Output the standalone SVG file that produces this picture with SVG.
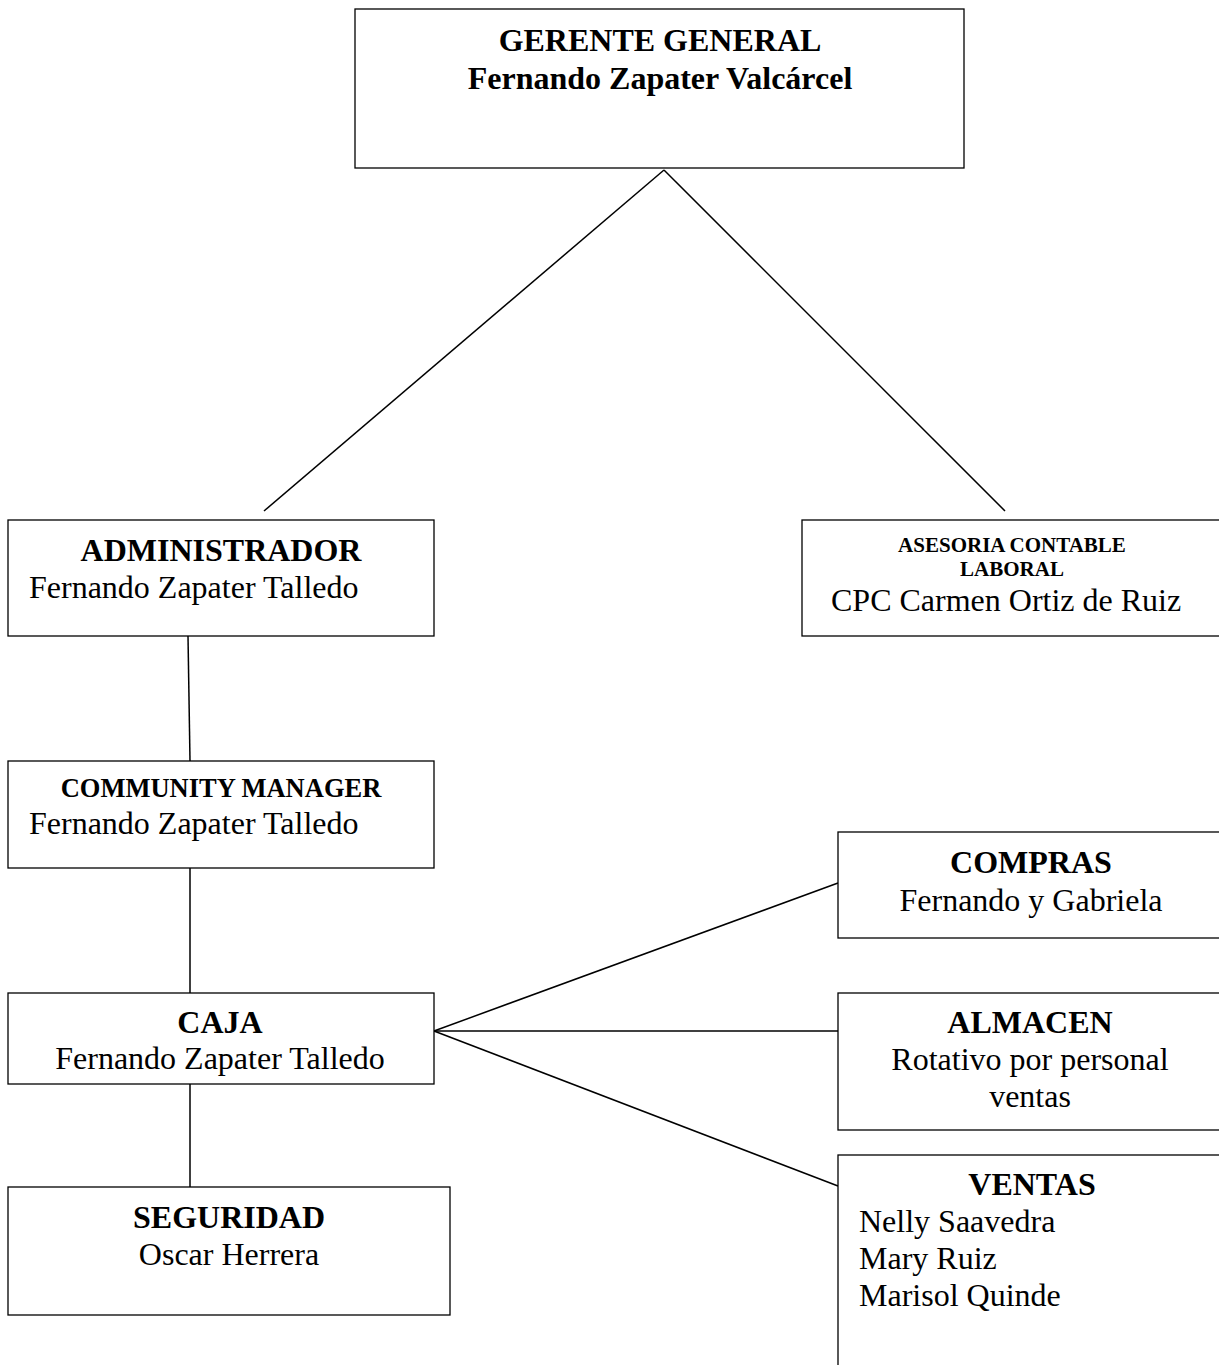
<svg xmlns="http://www.w3.org/2000/svg" width="1219" height="1365" viewBox="0 0 1219 1365">
<style>
.box{fill:#fff;stroke:#000;stroke-width:1.3}
.b{font-family:"Liberation Serif","Times New Roman",serif;font-weight:bold;fill:#000}
.r{font-family:"Liberation Serif","Times New Roman",serif;fill:#000}
.c{text-anchor:middle}
.conn line{stroke:#000;stroke-width:1.5}
</style>
<rect width="1219" height="1365" fill="#fff"/>
<g class="conn" id="connectors">
<line x1="664" y1="170" x2="264" y2="511"/>
<line x1="664" y1="170" x2="1005" y2="511"/>
<line x1="188" y1="636" x2="190" y2="761"/>
<line x1="190" y1="868" x2="190" y2="993"/>
<line x1="190" y1="1084" x2="190" y2="1187"/>
<line x1="434" y1="1031" x2="838" y2="883"/>
<line x1="434" y1="1031" x2="838" y2="1031"/>
<line x1="434" y1="1031" x2="838" y2="1186"/>
</g>
<g id="gerente">
<rect class="box" x="355" y="9" width="609" height="159"/>
<text class="b c" x="660" y="51" font-size="32">GERENTE GENERAL</text>
<text class="b c" x="660" y="89" font-size="32">Fernando Zapater Valcárcel</text>
</g>
<g id="administrador">
<rect class="box" x="8" y="520" width="426" height="116"/>
<text class="b c" x="221" y="561" font-size="32">ADMINISTRADOR</text>
<text class="r" x="29" y="598" font-size="32">Fernando Zapater Talledo</text>
</g>
<g id="asesoria">
<rect class="box" x="802" y="520" width="430" height="116"/>
<text class="b c" x="1012" y="552" font-size="21">ASESORIA CONTABLE</text>
<text class="b c" x="1012" y="576" font-size="21">LABORAL</text>
<text class="r" x="831" y="611" font-size="32">CPC Carmen Ortiz de Ruiz</text>
</g>
<g id="community">
<rect class="box" x="8" y="761" width="426" height="107"/>
<text class="b c" x="221" y="797" font-size="26.5">COMMUNITY MANAGER</text>
<text class="r" x="29" y="834" font-size="32">Fernando Zapater Talledo</text>
</g>
<g id="caja">
<rect class="box" x="8" y="993" width="426" height="91"/>
<text class="b c" x="220" y="1033" font-size="32">CAJA</text>
<text class="r c" x="220" y="1069" font-size="32">Fernando Zapater Talledo</text>
</g>
<g id="seguridad">
<rect class="box" x="8" y="1187" width="442" height="128"/>
<text class="b c" x="229" y="1228" font-size="32">SEGURIDAD</text>
<text class="r c" x="229" y="1265" font-size="32">Oscar Herrera</text>
</g>
<g id="compras">
<rect class="box" x="838" y="832" width="400" height="106"/>
<text class="b c" x="1031" y="873" font-size="32">COMPRAS</text>
<text class="r c" x="1031" y="911" font-size="32">Fernando y Gabriela</text>
</g>
<g id="almacen">
<rect class="box" x="838" y="993" width="400" height="137"/>
<text class="b c" x="1030" y="1033" font-size="32">ALMACEN</text>
<text class="r c" x="1030" y="1070" font-size="32">Rotativo por personal</text>
<text class="r c" x="1030" y="1107" font-size="32">ventas</text>
</g>
<g id="ventas">
<rect class="box" x="838" y="1155" width="400" height="230"/>
<text class="b c" x="1032" y="1195" font-size="32">VENTAS</text>
<text class="r" x="859" y="1232" font-size="32">Nelly Saavedra</text>
<text class="r" x="859" y="1269" font-size="32">Mary Ruiz</text>
<text class="r" x="859" y="1306" font-size="32">Marisol Quinde</text>
</g>
</svg>
